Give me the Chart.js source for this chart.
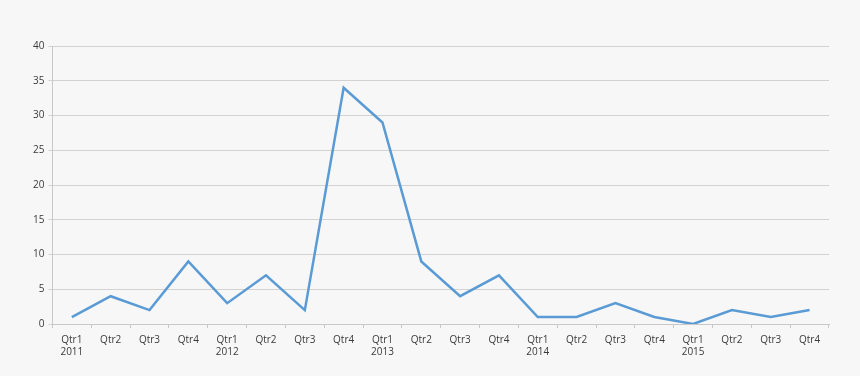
<!DOCTYPE html>
<html>
<head>
<meta charset="utf-8">
<script src="https://cdn.jsdelivr.net/npm/chart.js@4"></script>
<style>
  html, body { margin: 0; padding: 0; background: #f7f7f7; }
  #wrap { width: 860px; height: 376px; }
</style>
</head>
<body>
<div id="wrap"><canvas id="myCanvas" width="860" height="376"></canvas></div>
<script>
const quarters = ["Qtr1", "Qtr2", "Qtr3", "Qtr4"];
const years = ["2011", "2012", "2013", "2014", "2015"];
const values = [1, 4, 2, 9, 3, 7, 2, 34, 29, 9, 4, 7, 1, 1, 3, 1, 0, 2, 1, 2];
const yTicks = [0, 5, 10, 15, 20, 25, 30, 35, 40];

// each label: quarter on first line, year under Qtr1
const labels = [];
years.forEach(y => {
    quarters.forEach((q, i) => {
        labels.push(i === 0 ? [q, y] : q);
    });
});

const ctx = document.getElementById("myCanvas").getContext("2d");

var chart = new Chart(ctx, {
    type: "line",
    data: {
        labels: labels,
        datasets: [
            {
                data: values,
                borderColor: "#5b9bd5",
                borderWidth: 2.5,
                pointRadius: 0,
                tension: 0,
                fill: false
            }
        ]
    },
    options: {
        responsive: false,
        animation: false,
        layout: {
            padding: { top: 46, left: 29, right: 31, bottom: 12 }
        },
        plugins: {
            legend: { display: false },
            tooltip: { enabled: false }
        },
        scales: {
            x: {
                offset: true,
                grid: {
                    offset: true,
                    drawOnChartArea: false,
                    drawTicks: true,
                    tickLength: 4,
                    color: "#c8c8c8"
                },
                border: { color: "#c8c8c8", width: 1 },
                ticks: {
                    color: "#3a3a3a",
                    font: { family: "Open Sans", size: 10 },
                    maxRotation: 0,
                    autoSkip: false,
                    padding: 6
                }
            },
            y: {
                min: 0,
                max: 40,
                afterBuildTicks: axis => {
                    axis.ticks = yTicks.map(v => ({ value: v }));
                },
                grid: {
                    color: "#d2d2d2",
                    tickLength: 4,
                    drawTicks: true
                },
                border: { color: "#c8c8c8", width: 1 },
                ticks: {
                    color: "#3a3a3a",
                    font: { family: "Open Sans", size: 10 },
                    padding: 4
                }
            }
        }
    }
});
</script>
</body>
</html>
